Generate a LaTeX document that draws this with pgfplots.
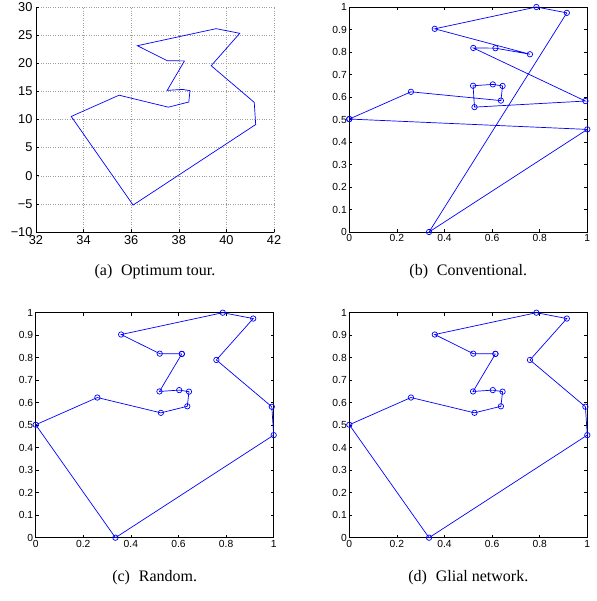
\documentclass[border=0pt]{standalone}
\usepackage{pgfplots}
\pgfplotsset{compat=1.18}
\usepackage{fontspec}
\setmainfont{Liberation Serif}
\newfontfamily\ticksans{Liberation Sans}
\begin{document}
\begin{tikzpicture}
\useasboundingbox (0pt,0pt) rectangle (596pt,-601pt);
\pgfplotsset{
  tspbase/.style={
    scale only axis, width=238pt, height=225pt, anchor=south west,
    /pgf/number format/assume math mode=true,
    tick align=inside, major tick length=3pt,
    axis line style={black, line width=0.8pt},
    every tick/.style={black, line width=0.6pt},
    xlabel style={at={(axis description cs:0.5,-0.178)}, anchor=center, font=\fontsize{16}{18}\selectfont},
  },
  tspunit/.style={
    tspbase,
    xmin=0, xmax=1, ymin=0, ymax=1,
    xtick={0,0.2,0.4,0.6,0.8,1}, xticklabels={0,0.2,0.4,0.6,0.8,1},
    ytick={0,0.1,0.2,0.3,0.4,0.5,0.6,0.7,0.8,0.9,1},
    yticklabels={0,0.1,0.2,0.3,0.4,0.5,0.6,0.7,0.8,0.9,1},
    tick label style={font=\ticksans\fontsize{10.3}{11}\selectfont},
    xticklabel style={yshift=1pt},
    yticklabel style={xshift=1pt},
  },
  tourline/.style={blue, line width=0.7pt, mark=o, mark size=2.7pt, mark options={blue, line width=0.7pt}},
}
% (a) Optimum tour
\begin{axis}[tspbase, at={(36pt,-232pt)},
  xmin=32, xmax=42, ymin=-10, ymax=30,
  xtick={32,34,36,38,40,42}, xticklabels={32,34,36,38,40,42},
  ytick={-10,-5,0,5,10,15,20,25,30},
  yticklabels={−10,−5,0,5,10,15,20,25,30},
  tick label style={font=\ticksans\fontsize{12.8}{13}\selectfont},
  axis x line*=bottom, axis y line*=left,
  x axis line style={-}, y axis line style={-},
  grid=major, grid style={gray!75, line width=0.45pt, dash pattern=on 0.6pt off 1.8pt},
  xlabel={(a)\hspace{0.55em}Optimum tour.}]
\addplot[blue, line width=0.7pt] coordinates {
(38.24,20.42) (37.51,15.17) (38.15,15.35) (38.47,15.13) (38.42,13.11)
(37.56,12.19) (35.49,14.32) (33.48,10.54) (36.08,-5.21) (41.23,9.10)
(41.17,13.05) (39.36,19.56) (40.56,25.32) (39.57,26.15) (36.26,23.12)
(37.52,20.44) (38.24,20.42)};
\end{axis}
% (b) Conventional: 5,15,7,12,13,14,6,10,8,1,16,4,2,3,11,9,5
\begin{axis}[tspunit, at={(349.3pt,-232pt)}, xlabel={(b)\hspace{0.55em}Conventional.}]
\addplot[tourline] coordinates {
(0.000,0.502) (0.259,0.623) (0.637,0.584) (0.644,0.649) (0.603,0.656)
(0.520,0.650) (0.526,0.555) (0.992,0.582) (0.521,0.818) (0.614,0.817)
(0.759,0.790) (0.359,0.903) (0.786,1.000) (0.914,0.974) (0.335,0.000)
(1.000,0.456) (0.000,0.502)};
\end{axis}
% (c) Random: 1,14,13,12,7,6,15,5,11,9,10,16,3,2,4,8,1
\begin{axis}[tspunit, at={(35.7pt,-537.7pt)}, xlabel={(c)\hspace{0.55em}Random.}]
\addplot[tourline] coordinates {
(0.614,0.817) (0.520,0.650) (0.603,0.656) (0.644,0.649) (0.637,0.584)
(0.526,0.555) (0.259,0.623) (0.000,0.502) (0.335,0.000) (1.000,0.456)
(0.992,0.582) (0.759,0.790) (0.914,0.974) (0.786,1.000) (0.359,0.903)
(0.521,0.818) (0.614,0.817)};
\end{axis}
% (d) Glial network
\begin{axis}[tspunit, at={(349.3pt,-537.7pt)}, xlabel={(d)\hspace{0.55em}Glial network.}]
\addplot[tourline] coordinates {
(0.614,0.817) (0.520,0.650) (0.603,0.656) (0.644,0.649) (0.637,0.584)
(0.526,0.555) (0.259,0.623) (0.000,0.502) (0.335,0.000) (1.000,0.456)
(0.992,0.582) (0.759,0.790) (0.914,0.974) (0.786,1.000) (0.359,0.903)
(0.521,0.818) (0.614,0.817)};
\end{axis}
\end{tikzpicture}
\end{document}
